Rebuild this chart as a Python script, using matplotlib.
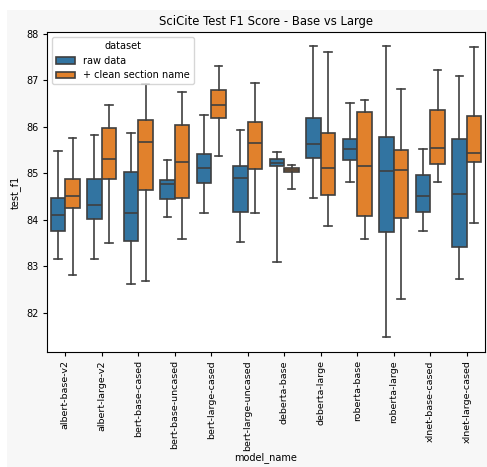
import matplotlib
matplotlib.use("Agg")
import matplotlib.pyplot as plt
from matplotlib.patches import Rectangle, Patch

models = ["albert-base-v2", "albert-large-v2", "bert-base-cased", "bert-base-uncased",
          "bert-large-cased", "bert-large-uncased", "deberta-base", "deberta-large",
          "roberta-base", "roberta-large", "xlnet-base-cased", "xlnet-large-cased"]
hues = ["raw data", "+ clean section name"]

# raw data
raw_whislo = [83.16, 83.15, 82.62, 84.06, 84.14, 83.53, 83.09, 84.47, 84.82, 81.48, 83.77, 82.72]
raw_q1     = [83.77, 84.03, 83.55, 84.44, 84.79, 84.16, 85.16, 85.33, 85.28, 83.73, 84.16, 83.41]
raw_med    = [84.11, 84.32, 84.14, 84.77, 85.12, 84.90, 85.23, 85.63, 85.53, 85.05, 84.51, 84.56]
raw_q3     = [84.47, 84.88, 85.03, 84.85, 85.42, 85.15, 85.31, 86.19, 85.73, 85.79, 84.96, 85.74]
raw_whishi = [85.49, 85.82, 85.86, 85.29, 86.25, 85.94, 85.46, 87.73, 86.52, 87.73, 85.53, 87.09]

# + clean section name
cln_whislo = [82.82, 83.50, 82.69, 83.58, 85.38, 84.14, 84.67, 83.86, 83.59, 82.29, 84.82, 83.94]
cln_q1     = [84.25, 84.89, 84.65, 84.48, 86.19, 85.10, 85.03, 84.54, 84.09, 84.05, 85.21, 85.24]
cln_med    = [84.51, 85.31, 85.68, 85.24, 86.48, 85.66, 85.08, 85.11, 85.15, 85.08, 85.55, 85.44]
cln_q3     = [84.89, 85.97, 86.14, 86.05, 86.79, 86.10, 85.12, 85.86, 86.32, 85.51, 86.36, 86.24]
cln_whishi = [85.76, 86.48, 86.92, 86.74, 87.30, 86.94, 85.17, 87.61, 86.57, 86.82, 87.22, 87.71]

colors = ["#3274a1", "#e1812c"]
linecol = "#3f3f3f"

fig = plt.figure(figsize=(4.87, 4.67), dpi=100, facecolor="white")
fig.patches.append(Rectangle((7/487, 0), 480/487, 457/467, transform=fig.transFigure,
                             facecolor="#f7f7f7", edgecolor="none", zorder=-10))
ax = fig.add_axes([47/487, 1-352/467, (485-47)/487, (352-32)/467])
ax.set_facecolor("white")

series = [
    (raw_whislo, raw_q1, raw_med, raw_q3, raw_whishi),
    (cln_whislo, cln_q1, cln_med, cln_q3, cln_whishi),
]
for h, (wl, q1, md, q3, wh) in enumerate(series):
    stats = []
    for i in range(len(models)):
        stats.append(dict(whislo=wl[i], q1=q1[i], med=md[i], q3=q3[i], whishi=wh[i], fliers=[]))
    pos = [i - 0.2 + 0.4 * h for i in range(len(models))]
    ax.bxp(stats, positions=pos, widths=0.4, capwidths=0.2, patch_artist=True, showfliers=False,
           boxprops=dict(facecolor=colors[h], edgecolor=linecol, linewidth=1.2),
           medianprops=dict(color=linecol, linewidth=1.2),
           whiskerprops=dict(color=linecol, linewidth=1.2),
           capprops=dict(color=linecol, linewidth=1.2),
           manage_ticks=False)

ax.set_xlim(-0.5, len(models) - 0.5)
ax.set_ylim(81.16, 88.04)
ax.set_yticks([82, 83, 84, 85, 86, 87, 88])
ax.set_xticks(range(len(models)))
ax.set_xticklabels(models, rotation=90, fontsize=6.8)
ax.tick_params(axis="y", labelsize=7)
ax.tick_params(length=3, pad=3)
ax.set_xlabel("model_name", fontsize=7, labelpad=0.5)
ax.set_ylabel("test_f1", fontsize=7)
ax.set_title("SciCite Test F1 Score - Base vs Large", fontsize=8.4, pad=5)

handles = [Patch(facecolor=colors[i], edgecolor=linecol, linewidth=1.2, label=hues[i]) for i in range(2)]
ax.legend(handles=handles, title="dataset", loc="upper left", fontsize=7, title_fontsize=7)

fig.savefig("out.png", dpi=100, facecolor=fig.get_facecolor())
